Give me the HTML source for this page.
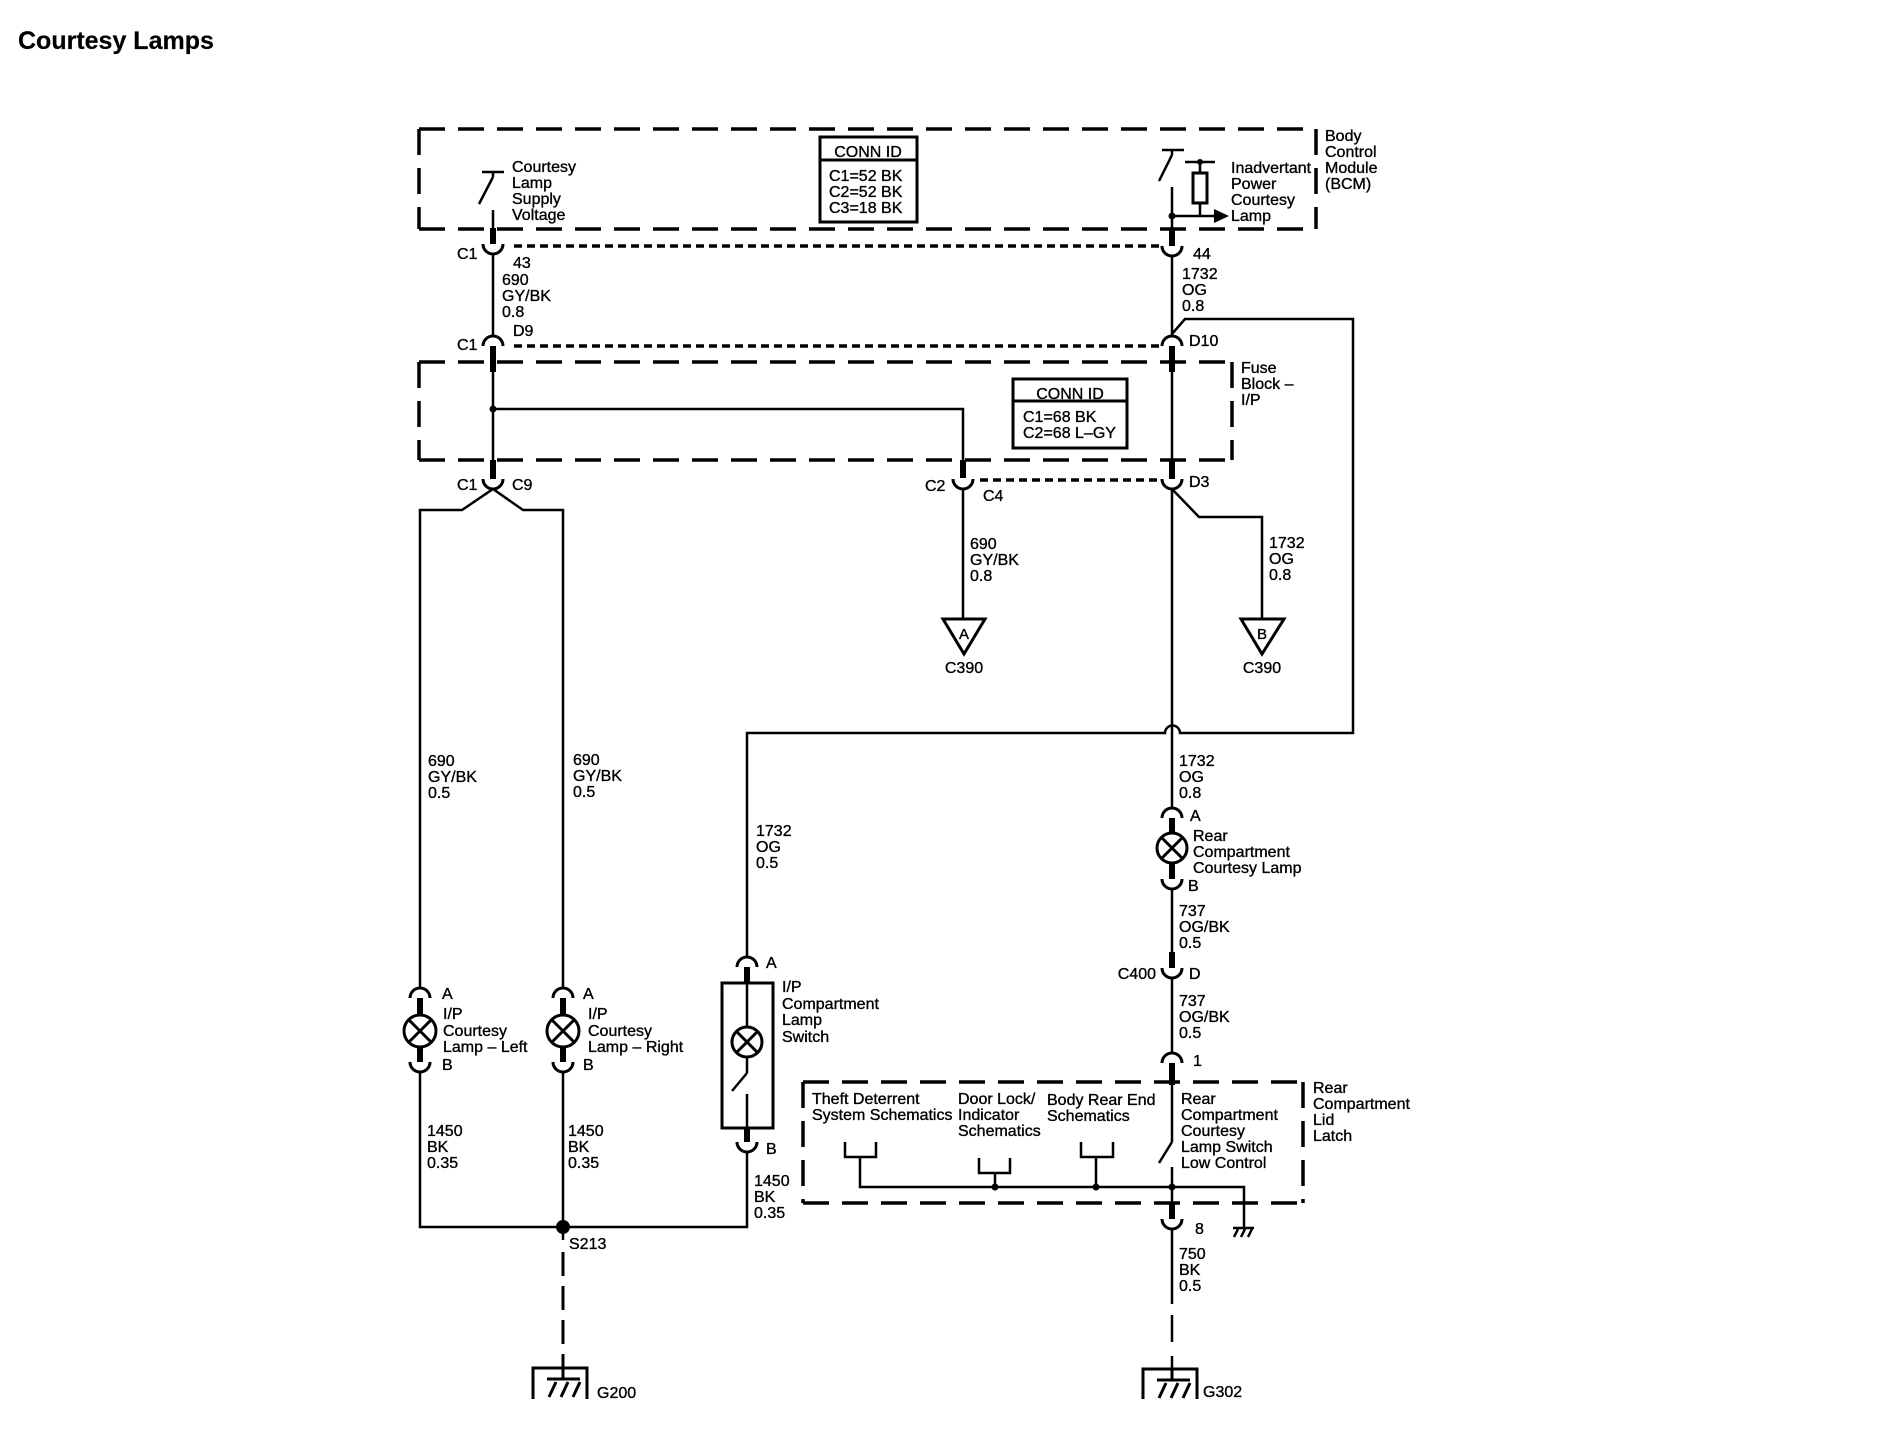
<!DOCTYPE html>
<html><head><meta charset="utf-8"><title>Courtesy Lamps</title><style>
html,body{margin:0;padding:0;background:#fff;}
svg{display:block}
text{font-family:"Liberation Sans",Arial,sans-serif;font-size:16px;fill:#000;stroke:#000;stroke-width:0.35px}
</style></head><body>
<svg width="1902" height="1440" viewBox="0 0 1902 1440" xmlns="http://www.w3.org/2000/svg">
<text x="18" y="49" style="font-size:25px;font-weight:bold;stroke-width:0.2px">Courtesy Lamps</text>

<!-- dashed component boxes -->
<g fill="none" stroke="#000" stroke-width="3.5" stroke-dasharray="26 13">
  <line x1="419" y1="129" x2="1316" y2="129"/>
  <line x1="419" y1="129" x2="419" y2="229"/>
  <line x1="419" y1="229" x2="1316" y2="229"/>
  <line x1="1316" y1="129" x2="1316" y2="229"/>
  <line x1="419" y1="362" x2="1232" y2="362"/>
  <line x1="419" y1="362" x2="419" y2="460"/>
  <line x1="419" y1="460" x2="1232" y2="460"/>
  <line x1="1232" y1="362" x2="1232" y2="460"/>
  <line x1="803" y1="1082" x2="1303" y2="1082"/>
  <line x1="803" y1="1082" x2="803" y2="1203"/>
  <line x1="803" y1="1203" x2="1303" y2="1203"/>
  <line x1="1303" y1="1082" x2="1303" y2="1203"/>
</g>
<!-- dotted connector lines -->
<g fill="none" stroke="#000" stroke-width="3.5" stroke-dasharray="8 5">
  <line x1="514" y1="246" x2="1160" y2="246"/>
  <line x1="514" y1="346" x2="1160" y2="346"/>
  <line x1="980" y1="480" x2="1160" y2="480"/>
</g>

<!-- CONN ID boxes -->
<g fill="#fff" stroke="#000" stroke-width="3">
  <rect x="820" y="137" width="97" height="85"/>
  <line x1="820" y1="160" x2="917" y2="160"/>
  <rect x="1013" y="379" width="114" height="69"/>
  <line x1="1013" y1="401" x2="1127" y2="401"/>
</g>

<!-- thin wires -->
<g fill="none" stroke="#000" stroke-width="2.5" stroke-linejoin="miter">
  <line x1="482" y1="172" x2="504" y2="172"/>
  <line x1="493" y1="172" x2="493" y2="177"/>
  <line x1="493" y1="177" x2="479" y2="204"/>
  <line x1="493" y1="210" x2="493" y2="230"/>
  <line x1="493" y1="254" x2="493" y2="337"/>
  <line x1="493" y1="370" x2="493" y2="462"/>
  <path d="M493 409 H963 V462"/>
  <line x1="963" y1="489" x2="963" y2="619"/>
  <path d="M420 989 V510 H462 L493 489 L523 510 H563 V989"/>
  <path d="M420 1072 V1227 H747 V1152"/>
  <line x1="563" y1="1072" x2="563" y2="1240"/>
  <path d="M747 958 V733 H1165 A7.5 7.5 0 0 1 1180 733 H1353 V319 H1185 L1172 334"/>
  <line x1="747" y1="983" x2="747" y2="1027"/>
  <line x1="747" y1="1057" x2="747" y2="1073"/>
  <line x1="747" y1="1073" x2="732" y2="1091"/>
  <line x1="747" y1="1094" x2="747" y2="1128"/>
  <line x1="1162" y1="150" x2="1184" y2="150"/>
  <line x1="1172" y1="150" x2="1172" y2="155"/>
  <line x1="1172" y1="155" x2="1159" y2="181"/>
  <line x1="1172" y1="187" x2="1172" y2="230"/>
  <line x1="1172" y1="216" x2="1216" y2="216"/>
  <line x1="1185" y1="162" x2="1215" y2="162"/>
  <line x1="1200" y1="162" x2="1200" y2="173"/>
  <line x1="1200" y1="203" x2="1200" y2="216"/>
  <line x1="1172" y1="256" x2="1172" y2="337"/>
  <line x1="1172" y1="370" x2="1172" y2="462"/>
  <line x1="1172" y1="489" x2="1172" y2="809"/>
  <path d="M1172 489 L1199 517 H1262 V619"/>
  <line x1="1172" y1="889" x2="1172" y2="953"/>
  <line x1="1172" y1="978" x2="1172" y2="1054"/>
  <line x1="1172" y1="1083" x2="1172" y2="1142"/>
  <line x1="1172" y1="1142" x2="1159" y2="1163"/>
  <line x1="1172" y1="1167" x2="1172" y2="1204"/>
  <line x1="1172" y1="1229" x2="1172" y2="1304"/>
  <line x1="1172" y1="1315" x2="1172" y2="1342"/>
  <line x1="1172" y1="1356" x2="1172" y2="1369"/>
  <path d="M860 1157 V1187 H1244 V1228"/>
  <path d="M845 1142 V1157 H876 V1142"/>
  <path d="M979 1158 V1173 H1010 V1158"/>
  <line x1="995" y1="1173" x2="995" y2="1187"/>
  <path d="M1081 1142 V1157 H1113 V1142"/>
  <line x1="1096" y1="1157" x2="1096" y2="1187"/>
  <line x1="1233" y1="1228" x2="1254" y2="1228"/>
</g>
<g fill="none" stroke="#000" stroke-width="2.5">
  <line x1="1238" y1="1229" x2="1234" y2="1237"/>
  <line x1="1245" y1="1229" x2="1241" y2="1237"/>
  <line x1="1252" y1="1229" x2="1248" y2="1237"/>
</g>
<path d="M563 1252 V1368" fill="none" stroke="#000" stroke-width="3" stroke-dasharray="24 10"/>

<!-- thick pins -->
<g stroke="#000" stroke-width="6" fill="none">
  <line x1="493" y1="228" x2="493" y2="244"/>
  <line x1="493" y1="346" x2="493" y2="372"/>
  <line x1="493" y1="460" x2="493" y2="479"/>
  <line x1="963" y1="460" x2="963" y2="478"/>
  <line x1="1172" y1="228" x2="1172" y2="246"/>
  <line x1="1172" y1="346" x2="1172" y2="372"/>
  <line x1="1172" y1="460" x2="1172" y2="479"/>
  <line x1="420" y1="998" x2="420" y2="1015"/>
  <line x1="420" y1="1047" x2="420" y2="1062"/>
  <line x1="563" y1="998" x2="563" y2="1015"/>
  <line x1="563" y1="1047" x2="563" y2="1062"/>
  <line x1="747" y1="967" x2="747" y2="984"/>
  <line x1="747" y1="1127" x2="747" y2="1142"/>
  <line x1="1172" y1="818" x2="1172" y2="833"/>
  <line x1="1172" y1="863" x2="1172" y2="879"/>
  <line x1="1172" y1="952" x2="1172" y2="968"/>
  <line x1="1172" y1="1063" x2="1172" y2="1085"/>
  <line x1="1172" y1="1203" x2="1172" y2="1219"/>
</g>

<!-- connector cups (U) and arches -->
<g fill="none" stroke="#000" stroke-width="3">
  <path d="M483 244 A10 10 0 0 0 503 244"/>
  <path d="M483 346 A10 10 0 0 1 503 346"/>
  <path d="M483 479 A10 10 0 0 0 503 479"/>
  <path d="M953 479 A10 10 0 0 0 973 479"/>
  <path d="M1162 246 A10 10 0 0 0 1182 246"/>
  <path d="M1162 346 A10 10 0 0 1 1182 346"/>
  <path d="M1162 479 A10 10 0 0 0 1182 479"/>
  <path d="M410 998 A10 10 0 0 1 430 998"/>
  <path d="M410 1062 A10 10 0 0 0 430 1062"/>
  <path d="M553 998 A10 10 0 0 1 573 998"/>
  <path d="M553 1062 A10 10 0 0 0 573 1062"/>
  <path d="M737 967 A10 10 0 0 1 757 967"/>
  <path d="M737 1142 A10 10 0 0 0 757 1142"/>
  <path d="M1162 818 A10 10 0 0 1 1182 818"/>
  <path d="M1162 879 A10 10 0 0 0 1182 879"/>
  <path d="M1162 968 A10 10 0 0 0 1182 968"/>
  <path d="M1162 1063 A10 10 0 0 1 1182 1063"/>
  <path d="M1162 1219 A10 10 0 0 0 1182 1219"/>
</g>

<!-- lamps -->
<g fill="#fff" stroke="#000" stroke-width="3">
  <circle cx="420" cy="1031" r="16"/>
  <circle cx="563" cy="1031" r="16"/>
  <circle cx="747" cy="1042" r="15"/>
  <circle cx="1172" cy="848" r="15"/>
  <rect x="722" y="983" width="51" height="145" fill="none"/>
  <rect x="1193" y="173" width="14" height="30"/>
</g>
<g stroke="#000" stroke-width="3">
  <line x1="409" y1="1020" x2="431" y2="1042"/><line x1="431" y1="1020" x2="409" y2="1042"/>
  <line x1="552" y1="1020" x2="574" y2="1042"/><line x1="574" y1="1020" x2="552" y2="1042"/>
  <line x1="737" y1="1032" x2="757" y2="1052"/><line x1="757" y1="1032" x2="737" y2="1052"/>
  <line x1="1162" y1="838" x2="1182" y2="858"/><line x1="1182" y1="838" x2="1162" y2="858"/>
</g>

<!-- triangles -->
<g fill="#fff" stroke="#000" stroke-width="3" stroke-linejoin="miter">
  <polygon points="943,619 985,619 964,654"/>
  <polygon points="1241,619 1284,619 1262,654"/>
</g>

<!-- grounds -->
<g fill="none" stroke="#000" stroke-width="3">
  <path d="M533 1399 V1368 H587 V1399"/>
  <line x1="563" y1="1368" x2="563" y2="1379"/>
  <line x1="547" y1="1379" x2="580" y2="1379"/>
  <line x1="556" y1="1382" x2="549" y2="1397"/>
  <line x1="568" y1="1382" x2="561" y2="1397"/>
  <line x1="580" y1="1382" x2="573" y2="1397"/>
  <path d="M1143 1399 V1369 H1197 V1399"/>
  <line x1="1172" y1="1369" x2="1172" y2="1380"/>
  <line x1="1157" y1="1380" x2="1190" y2="1380"/>
  <line x1="1166" y1="1383" x2="1159" y2="1398"/>
  <line x1="1178" y1="1383" x2="1171" y2="1398"/>
  <line x1="1190" y1="1383" x2="1183" y2="1398"/>
</g>

<!-- dots & arrow -->
<g fill="#000">
  <circle cx="493" cy="409" r="3.5"/>
  <circle cx="1172" cy="216" r="3.5"/>
  <circle cx="1200" cy="162" r="3"/>
  <circle cx="563" cy="1227" r="7"/>
  <circle cx="995" cy="1187" r="3.5"/>
  <circle cx="1096" cy="1187" r="3.5"/>
  <circle cx="1172" cy="1187" r="3.5"/>
  <polygon points="1214,209 1229,216 1214,223"/>
</g>

<!-- labels -->
<g>
  <text x="512" y="172">Courtesy</text>
  <text x="512" y="188">Lamp</text>
  <text x="512" y="204">Supply</text>
  <text x="512" y="220">Voltage</text>

  <text x="868" y="157" text-anchor="middle">CONN ID</text>
  <text x="829" y="181">C1=52 BK</text>
  <text x="829" y="197">C2=52 BK</text>
  <text x="829" y="213">C3=18 BK</text>

  <text x="1231" y="173">Inadvertant</text>
  <text x="1231" y="189">Power</text>
  <text x="1231" y="205">Courtesy</text>
  <text x="1231" y="221">Lamp</text>

  <text x="1325" y="141">Body</text>
  <text x="1325" y="157">Control</text>
  <text x="1325" y="173">Module</text>
  <text x="1325" y="189">(BCM)</text>

  <text x="457" y="259">C1</text>
  <text x="513" y="268">43</text>
  <text x="502" y="285">690</text>
  <text x="502" y="301">GY/BK</text>
  <text x="502" y="317">0.8</text>
  <text x="513" y="336">D9</text>
  <text x="457" y="350">C1</text>

  <text x="1193" y="259">44</text>
  <text x="1182" y="279">1732</text>
  <text x="1182" y="295">OG</text>
  <text x="1182" y="311">0.8</text>
  <text x="1189" y="346">D10</text>

  <text x="1241" y="373">Fuse</text>
  <text x="1241" y="389">Block –</text>
  <text x="1241" y="405">I/P</text>

  <text x="1070" y="399" text-anchor="middle">CONN ID</text>
  <text x="1023" y="422">C1=68 BK</text>
  <text x="1023" y="438">C2=68 L–GY</text>

  <text x="457" y="490">C1</text>
  <text x="512" y="490">C9</text>
  <text x="925" y="491">C2</text>
  <text x="983" y="501">C4</text>
  <text x="1189" y="487">D3</text>

  <text x="970" y="549">690</text>
  <text x="970" y="565">GY/BK</text>
  <text x="970" y="581">0.8</text>
  <text x="964" y="639" text-anchor="middle" style="font-size:15px">A</text>
  <text x="964" y="673" text-anchor="middle">C390</text>

  <text x="1269" y="548">1732</text>
  <text x="1269" y="564">OG</text>
  <text x="1269" y="580">0.8</text>
  <text x="1262" y="639" text-anchor="middle" style="font-size:15px">B</text>
  <text x="1262" y="673" text-anchor="middle">C390</text>

  <text x="428" y="766">690</text>
  <text x="428" y="782">GY/BK</text>
  <text x="428" y="798">0.5</text>
  <text x="573" y="765">690</text>
  <text x="573" y="781">GY/BK</text>
  <text x="573" y="797">0.5</text>

  <text x="756" y="836">1732</text>
  <text x="756" y="852">OG</text>
  <text x="756" y="868">0.5</text>

  <text x="1179" y="766">1732</text>
  <text x="1179" y="782">OG</text>
  <text x="1179" y="798">0.8</text>

  <text x="1190" y="821">A</text>
  <text x="1193" y="841">Rear</text>
  <text x="1193" y="857">Compartment</text>
  <text x="1193" y="873">Courtesy Lamp</text>
  <text x="1188" y="891">B</text>
  <text x="1179" y="916">737</text>
  <text x="1179" y="932">OG/BK</text>
  <text x="1179" y="948">0.5</text>
  <text x="1156" y="979" text-anchor="end">C400</text>
  <text x="1189" y="979">D</text>
  <text x="1179" y="1006">737</text>
  <text x="1179" y="1022">OG/BK</text>
  <text x="1179" y="1038">0.5</text>
  <text x="1193" y="1066">1</text>

  <text x="442" y="999">A</text>
  <text x="443" y="1019">I/P</text>
  <text x="443" y="1036">Courtesy</text>
  <text x="443" y="1052">Lamp – Left</text>
  <text x="442" y="1070">B</text>

  <text x="583" y="999">A</text>
  <text x="588" y="1019">I/P</text>
  <text x="588" y="1036">Courtesy</text>
  <text x="588" y="1052">Lamp – Right</text>
  <text x="583" y="1070">B</text>

  <text x="766" y="968">A</text>
  <text x="782" y="992">I/P</text>
  <text x="782" y="1009">Compartment</text>
  <text x="782" y="1025">Lamp</text>
  <text x="782" y="1042">Switch</text>
  <text x="766" y="1154">B</text>

  <text x="427" y="1136">1450</text>
  <text x="427" y="1152">BK</text>
  <text x="427" y="1168">0.35</text>
  <text x="568" y="1136">1450</text>
  <text x="568" y="1152">BK</text>
  <text x="568" y="1168">0.35</text>
  <text x="754" y="1186">1450</text>
  <text x="754" y="1202">BK</text>
  <text x="754" y="1218">0.35</text>
  <text x="569" y="1249">S213</text>

  <text x="812" y="1104">Theft Deterrent</text>
  <text x="812" y="1120">System Schematics</text>
  <text x="958" y="1104">Door Lock/</text>
  <text x="958" y="1120">Indicator</text>
  <text x="958" y="1136">Schematics</text>
  <text x="1047" y="1105">Body Rear End</text>
  <text x="1047" y="1121">Schematics</text>
  <text x="1181" y="1104">Rear</text>
  <text x="1181" y="1120">Compartment</text>
  <text x="1181" y="1136">Courtesy</text>
  <text x="1181" y="1152">Lamp Switch</text>
  <text x="1181" y="1168">Low Control</text>

  <text x="1313" y="1093">Rear</text>
  <text x="1313" y="1109">Compartment</text>
  <text x="1313" y="1125">Lid</text>
  <text x="1313" y="1141">Latch</text>

  <text x="1195" y="1234">8</text>
  <text x="1179" y="1259">750</text>
  <text x="1179" y="1275">BK</text>
  <text x="1179" y="1291">0.5</text>

  <text x="597" y="1398">G200</text>
  <text x="1203" y="1397">G302</text>
</g>
</svg>
</body></html>
